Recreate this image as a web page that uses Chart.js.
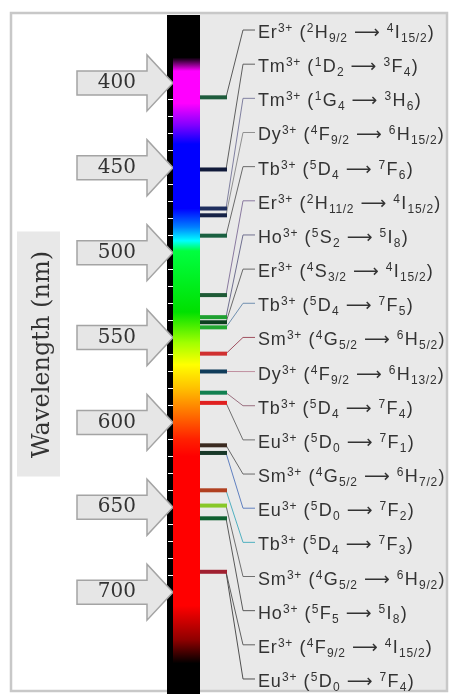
<!DOCTYPE html>
<html>
<head>
<meta charset="utf-8">
<script src="https://cdn.jsdelivr.net/npm/chart.js@4"></script>
<style>
  html, body { margin: 0; padding: 0; background: #fff; }
  canvas { display: block; }
</style>
</head>
<body>
<canvas id="spectrumChart" width="451" height="695"></canvas>
<script>
// ----------------------
// DATA
// ----------------------
// tick labels on the wavelength axis (nm)
const tickLabels = [400, 450, 500, 550, 600, 650, 700];

// emission lines (nm) and their colours
const lineNm = [408.5, 451, 474, 478, 490, 525, 538, 541, 544, 559.5, 570, 582.5, 588.5, 613.5, 618, 640, 649, 656.5, 688];
const lineColors = ["#1e5c3c", "#111a3a", "#1e2e5e", "#162246", "#1a6040", "#1e5a36", "#1ea030", "#0c4020", "#22a832", "#d03030",
                    "#103c5a", "#108050", "#e02020", "#3a2a20", "#183828", "#b04020", "#88c828", "#106030", "#a02030"];

// transitions, top to bottom, and which line each one points to
const labelText = [
    "Er^{3+} (^{2}H_{9/2} ⟶ ^{4}I_{15/2})",
    "Tm^{3+} (^{1}D_{2} ⟶ ^{3}F_{4})",
    "Tm^{3+} (^{1}G_{4} ⟶ ^{3}H_{6})",
    "Dy^{3+} (^{4}F_{9/2} ⟶ ^{6}H_{15/2})",
    "Tb^{3+} (^{5}D_{4} ⟶ ^{7}F_{6})",
    "Er^{3+} (^{2}H_{11/2} ⟶ ^{4}I_{15/2})",
    "Ho^{3+} (^{5}S_{2} ⟶ ^{5}I_{8})",
    "Er^{3+} (^{4}S_{3/2} ⟶ ^{4}I_{15/2})",
    "Tb^{3+} (^{5}D_{4} ⟶ ^{7}F_{5})",
    "Sm^{3+} (^{4}G_{5/2} ⟶ ^{6}H_{5/2})",
    "Dy^{3+} (^{4}F_{9/2} ⟶ ^{6}H_{13/2})",
    "Tb^{3+} (^{5}D_{4} ⟶ ^{7}F_{4})",
    "Eu^{3+} (^{5}D_{0} ⟶ ^{7}F_{1})",
    "Sm^{3+} (^{4}G_{5/2} ⟶ ^{6}H_{7/2})",
    "Eu^{3+} (^{5}D_{0} ⟶ ^{7}F_{2})",
    "Tb^{3+} (^{5}D_{4} ⟶ ^{7}F_{3})",
    "Sm^{3+} (^{4}G_{5/2} ⟶ ^{6}H_{9/2})",
    "Ho^{3+} (^{5}F_{5} ⟶ ^{5}I_{8})",
    "Er^{3+} (^{4}F_{9/2} ⟶ ^{4}I_{15/2})",
    "Eu^{3+} (^{5}D_{0} ⟶ ^{7}F_{4})"
];
const labelLine = [0, 1, 2, 3, 4, 5, 6, 7, 8, 9, 10, 11, 12, 13, 14, 15, 16, 17, 18, 18];
const linkColors = ["#5a5a5a", "#606060", "#8080a0", "#909090", "#6a6a6a", "#8a7aa0", "#707090", "#6a6a6a", "#7090b0", "#a05060",
                    "#c090a0", "#9a7080", "#707070", "#6a6a6a", "#6080c0", "#50b0c0", "#707070", "#5a5a5a", "#606060", "#505050"];

// spectrum colour stops (nm)
const specNm = [360, 385, 393, 412, 425, 436, 474, 485, 493, 499, 535, 553, 566, 580, 595, 610, 620, 708, 728, 742, 760];
const specColor = ["#000000", "#000000", "#ff00ff", "#ff00ff", "#8000ff", "#0000ff", "#0000ff", "#0080ff", "#00ffff", "#00ff40", "#00e000",
                   "#a0ff00", "#ffff00", "#ffc000", "#ff7000", "#ff2000", "#ff0000", "#ff0000", "#900000", "#000000", "#000000"];

// x positions in the chart area (px units of the x scale)
const SPEC_END = 27;
const BAR_END = 54;
const LINK_X = 70;
const LABEL_X = 85;

// ----------------------
// DRAW HELPERS
// ----------------------
function drawArrow(ctx, py, tipX) {
    ctx.beginPath();
    ctx.moveTo(77, py - 12);
    ctx.lineTo(tipX - 26, py - 12);
    ctx.lineTo(tipX - 26, py - 28);
    ctx.lineTo(tipX, py);
    ctx.lineTo(tipX - 26, py + 28);
    ctx.lineTo(tipX - 26, py + 12);
    ctx.lineTo(77, py + 12);
    ctx.closePath();
    ctx.fillStyle = "#e6e6e6";
    ctx.fill();
    ctx.strokeStyle = "#a4a4a4";
    ctx.lineWidth = 1.5;
    ctx.stroke();
}

function drawRich(ctx, text, x, y) {
    const parts = text.split(/(\^\{[^}]*\}|_\{[^}]*\})/).filter(p => p);
    ctx.textBaseline = "alphabetic";
    ctx.textAlign = "left";
    ctx.letterSpacing = "0.7px";
    parts.forEach(p => {
        let t = p, dy = 0;
        if (p.startsWith("^{")) { t = p.slice(2, -1); dy = -6; ctx.font = "12px 'Liberation Sans'"; }
        else if (p.startsWith("_{")) { t = p.slice(2, -1); dy = 4; ctx.font = "12px 'Liberation Sans'"; }
        else ctx.font = "18px 'Liberation Sans', 'DejaVu Sans'";
        ctx.fillText(t, x, y + dy);
        x += ctx.measureText(t).width + 0.6;
    });
}

// ----------------------
// PLUGIN: frame, arrows, spectrum, links, labels
// ----------------------
const decor = {
    id: "decor",
    beforeDraw(chart) {
        const { ctx, chartArea: a, scales: { x, y } } = chart;
        const specRight = x.getPixelForValue(SPEC_END);
        ctx.save();
        ctx.fillStyle = "#fff";
        ctx.fillRect(0, 0, chart.width, chart.height);

        // grey panel on the right
        ctx.fillStyle = "#e9e9e9";
        ctx.fillRect(specRight, 14, a.right - specRight, 677);

        // outer frame
        ctx.strokeStyle = "#c8c8c8";
        ctx.lineWidth = 2.5;
        ctx.strokeRect(11, 13, 436, 678);

        // box behind the axis title
        const mid = (a.top + a.bottom) / 2;
        ctx.fillStyle = "#e8e8e8";
        ctx.fillRect(17, mid - 123, 43, 245);

        // black strip with the spectrum
        ctx.fillStyle = "#000";
        ctx.fillRect(a.left - 6, a.top, specRight - a.left + 6, a.bottom - a.top);

        tickLabels.forEach(v => drawArrow(ctx, y.getPixelForValue(v), a.left));
        ctx.restore();
    },
    beforeDatasetsDraw(chart) {
        const { ctx, chartArea: a, scales: { x, y, slot } } = chart;
        const specRight = x.getPixelForValue(SPEC_END);
        ctx.save();
        const grad = ctx.createLinearGradient(0, y.getPixelForValue(y.min), 0, y.getPixelForValue(y.max));
        specNm.forEach((nm, i) => grad.addColorStop((nm - y.min) / (y.max - y.min), specColor[i]));
        ctx.fillStyle = grad;
        ctx.fillRect(a.left, a.top, specRight - a.left, a.bottom - a.top);

        // links from each line to its label
        ctx.lineWidth = 1;
        labelText.forEach((_, i) => {
            const py = y.getPixelForValue(lineNm[labelLine[i]]);
            const ly = slot.getPixelForValue(i);
            ctx.strokeStyle = linkColors[i];
            ctx.beginPath();
            ctx.moveTo(x.getPixelForValue(BAR_END) - 1, py);
            ctx.lineTo(x.getPixelForValue(LINK_X), ly);
            ctx.lineTo(x.getPixelForValue(LABEL_X - 3), ly);
            ctx.stroke();
        });
        ctx.restore();
    },
    afterDatasetsDraw(chart) {
        const { ctx, scales: { x, slot } } = chart;
        ctx.save();
        ctx.fillStyle = "#333";
        labelText.forEach((t, i) => drawRich(ctx, t, x.getPixelForValue(LABEL_X), slot.getPixelForValue(i) + 8));
        ctx.restore();
    }
};

// ----------------------
// CHART
// ----------------------
const datasets = lineNm.map((nm, i) => ({
    data: [{ x: SPEC_END, y: nm }, { x: BAR_END, y: nm }],
    borderColor: lineColors[i],
    borderWidth: 4,
    showLine: true,
    pointRadius: 0,
    yAxisID: "y"
}));

new Chart(document.getElementById("spectrumChart"), {
    type: "scatter",
    data: { datasets },
    options: {
        responsive: false,
        animation: false,
        layout: { padding: { top: 15, bottom: 1, left: 0, right: 5 } },
        plugins: { legend: { display: false }, tooltip: { enabled: false } },
        scales: {
            x: { type: "linear", display: false, min: 0, max: 273 },
            slot: { type: "linear", axis: "y", position: "right", display: false, reverse: true, min: -0.44, max: 19.44 },
            y: {
                type: "linear",
                position: "left",
                reverse: true,
                min: 360,
                max: 760,
                afterFit: s => { s.width = 173; s.paddingTop = 0; s.paddingBottom = 0; },
                afterBuildTicks: s => {
                    s.ticks = s.ticks.filter(t => t.value >= tickLabels[0] && t.value <= tickLabels[tickLabels.length - 1]);
                },
                border: { display: false },
                grid: {
                    drawOnChartArea: false,
                    drawTicks: true,
                    tickLength: 5,
                    color: c => (c.tick && c.tick.value % 50 === 0) ? "rgba(0,0,0,0)" : "#fff"
                },
                ticks: {
                    stepSize: 10,
                    autoSkip: false,
                    padding: 32,
                    color: "#333",
                    font: { family: "'DejaVu Serif'", size: 20 },
                    callback: v => tickLabels.includes(v) ? String(v) : ""
                },
                title: {
                    display: true,
                    text: "Wavelength (nm)",
                    color: "#333",
                    font: { family: "'DejaVu Serif'", size: 24 },
                    padding: { top: 28, bottom: 0 }
                }
            }
        }
    },
    plugins: [decor]
});
</script>
</body>
</html>
